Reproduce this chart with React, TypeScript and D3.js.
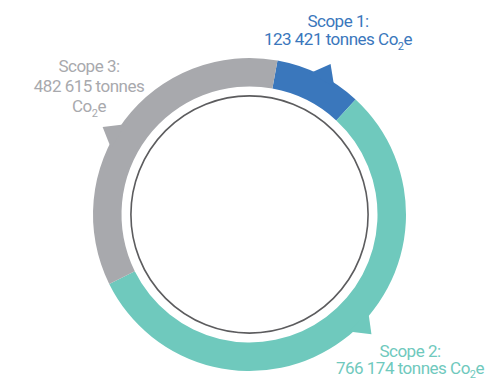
import React from "react";
import * as d3 from "d3";

const categories = ["Scope 1", "Scope 2", "Scope 3"];
const values = [123421, 766174, 482615];
const valueLabels = ["123 421", "766 174", "482 615"];
const colors = ["#3a77bc", "#6fc9bd", "#a8a9ad"];

// layout (not data)
const W = 487;
const H = 379;
const CX = 249.5;
const CY = 214.5;
const R_OUT = 156.5;
const R_IN = 128;
const R_CIRCLE = 118.6;
const START_DEG = 10.3;
const pointerDeg = [28.3, 134.5, 300.8];
const POINTER_R = 171;
const FONT = "Roboto, 'DejaVu Sans', sans-serif";
const FS = 17;

type Line = { parts: { t: string; sub?: boolean }[] };
const labelLayout = [
  { x: 338, y: 27, lh: 18, wrapCo: false },
  { x: 410, y: 357, lh: 16.5, wrapCo: false },
  { x: 89, y: 72, lh: 20, wrapCo: true },
];

function buildLines(i: number): Line[] {
  const head = { parts: [{ t: categories[i] + ":" }] };
  const co = [{ t: "Co" }, { t: "2", sub: true }, { t: "e" }];
  if (labelLayout[i].wrapCo) {
    return [head, { parts: [{ t: valueLabels[i] + " tonnes" }] }, { parts: co }];
  }
  return [head, { parts: [{ t: valueLabels[i] + " tonnes " }, ...co] }];
}

export default function App() {
  const pie = d3
    .pie<number>()
    .sort(null)
    .value((d) => d)
    .startAngle((START_DEG * Math.PI) / 180)
    .endAngle((START_DEG * Math.PI) / 180 + 2 * Math.PI);
  const arcs = pie(values);
  const arc = d3.arc<d3.PieArcDatum<number>>().innerRadius(R_IN).outerRadius(R_OUT);

  const pointers = pointerDeg.map((deg) => {
    const a = (deg * Math.PI) / 180;
    const d5 = (5.2 * Math.PI) / 180;
    const p1 = d3.pointRadial(a - d5, R_OUT - 3);
    const p2 = d3.pointRadial(a + d5, R_OUT - 3);
    const ap = d3.pointRadial(a, POINTER_R);
    return `M${p1[0]},${p1[1]}L${ap[0]},${ap[1]}L${p2[0]},${p2[1]}Z`;
  });

  return (
    <svg
      width={W}
      height={H}
      style={{ position: "absolute", left: 0, top: 0, background: "#fff" }}
    >
      <g transform={`translate(${CX},${CY})`}>
        {arcs.map((d, i) => (
          <path key={"a" + i} d={arc(d) || ""} fill={colors[i]} />
        ))}
        {pointers.map((p, i) => (
          <path key={"p" + i} d={p} fill={colors[i]} />
        ))}
        <circle r={R_CIRCLE} fill="none" stroke="#5c5c5e" strokeWidth={1.6} />
      </g>
      {labelLayout.map((L, i) => {
        const lines = buildLines(i);
        return (
          <text
            key={"t" + i}
            fill={colors[i]}
            fontFamily={FONT}
            fontSize={FS}
            fontWeight={400}
            textAnchor="middle"
            letterSpacing={-0.5}
          >
            {lines.map((ln, j) => (
              <tspan key={j} x={L.x} y={L.y + j * L.lh}>
                {ln.parts.map((p, k) =>
                  p.sub ? (
                    <tspan key={k} fontSize={11} dy={4.5}>
                      {p.t}
                    </tspan>
                  ) : k > 0 && ln.parts[k - 1].sub ? (
                    <tspan key={k} dy={-4.5}>
                      {p.t}
                    </tspan>
                  ) : (
                    <tspan key={k}>{p.t}</tspan>
                  )
                )}
              </tspan>
            ))}
          </text>
        );
      })}
    </svg>
  );
}
